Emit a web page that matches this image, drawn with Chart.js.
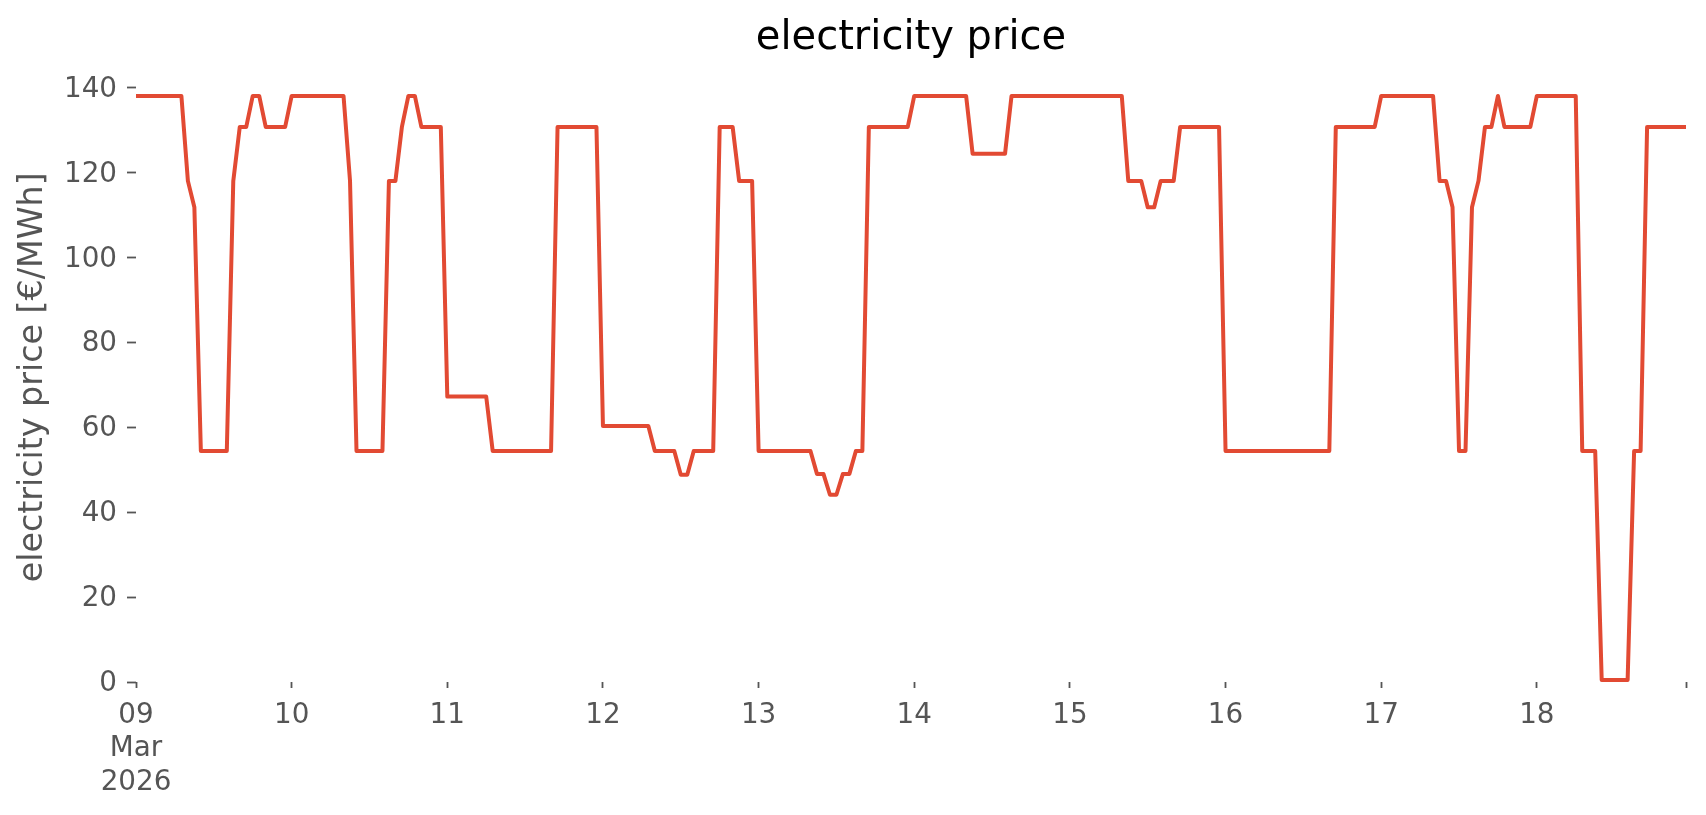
<!DOCTYPE html>
<html><head><meta charset="utf-8">
<script src="https://cdn.jsdelivr.net/npm/chart.js@4.4.1/dist/chart.umd.min.js"></script>
<style>html,body{margin:0;padding:0;background:#fff}canvas{display:block}</style>
</head><body>
<canvas id="c" width="1706" height="815"></canvas>
<script>
// hourly electricity price [€/MWh], 09 Mar 2026 00:00 ... 18 Mar 2026 23:00
const mar09 = [138,138,138,138,138,138,138,138,118,111.8,54.4,54.4,54.4,54.4,54.4,118,130.7,130.7,138,138,130.7,130.7,130.7,130.7];
const mar10 = [138,138,138,138,138,138,138,138,138,118,54.4,54.4,54.4,54.4,54.4,118,118,130.7,138,138,130.7,130.7,130.7,130.7];
const mar11 = [67.2,67.2,67.2,67.2,67.2,67.2,67.2,54.4,54.4,54.4,54.4,54.4,54.4,54.4,54.4,54.4,54.4,130.7,130.7,130.7,130.7,130.7,130.7,130.7];
const mar12 = [60.3,60.3,60.3,60.3,60.3,60.3,60.3,60.3,54.4,54.4,54.4,54.4,48.8,48.8,54.4,54.4,54.4,54.4,130.7,130.7,130.7,118,118,118];
const mar13 = [54.4,54.4,54.4,54.4,54.4,54.4,54.4,54.4,54.4,49,49,44.1,44.1,49,49,54.4,54.4,130.7,130.7,130.7,130.7,130.7,130.7,130.7];
const mar14 = [138,138,138,138,138,138,138,138,138,124.4,124.4,124.4,124.4,124.4,124.4,138,138,138,138,138,138,138,138,138];
const mar15 = [138,138,138,138,138,138,138,138,138,118,118,118,111.8,111.8,118,118,118,130.7,130.7,130.7,130.7,130.7,130.7,130.7];
const mar16 = [54.4,54.4,54.4,54.4,54.4,54.4,54.4,54.4,54.4,54.4,54.4,54.4,54.4,54.4,54.4,54.4,54.4,130.7,130.7,130.7,130.7,130.7,130.7,130.7];
const mar17 = [138,138,138,138,138,138,138,138,138,118,118,111.8,54.4,54.4,111.8,118,130.7,130.7,138,130.7,130.7,130.7,130.7,130.7];
const mar18 = [138,138,138,138,138,138,138,54.4,54.4,54.4,0.5,0.5,0.5,0.5,0.5,54.4,54.4,130.7,130.7,130.7,130.7,130.7,130.7,130.7];

const xTickHours = [0,24,48,72,96,120,144,168,192,216,239];
const xTickLabels = [['09','Mar','2026'],'10','11','12','13','14','15','16','17','18',''];
const yTickValues = [0,20,40,60,80,100,120,140];

const prices = [].concat(mar09,mar10,mar11,mar12,mar13,mar14,mar15,mar16,mar17,mar18);
const points = prices.map((v,i)=>({x:i,y:v}));

const FONT = 'DejaVu Sans';
new Chart(document.getElementById('c').getContext('2d'), {
  type:'line',
  data:{datasets:[{data:points, borderColor:'#E24A33', borderWidth:4, pointRadius:0, tension:0,
    borderJoinStyle:'round', borderCapStyle:'square', fill:false}]},
  options:{
    responsive:false, animation:false, devicePixelRatio:1,
    layout:{padding:{left:0,right:20,top:0,bottom:0}},
    plugins:{
      legend:{display:false}, tooltip:{enabled:false},
      title:{display:true, text:'electricity price', color:'#000', fullSize:false,
        font:{family:FONT, size:40, weight:'normal'}, padding:{top:14.5,bottom:10.1}}
    },
    scales:{
      x:{type:'linear', min:0, max:239, border:{display:false},
        grid:{drawOnChartArea:false, drawTicks:true, tickLength:6, tickColor:'#555', tickWidth:1.8},
        ticks:{autoSkip:false, maxRotation:0, minRotation:0, color:'#555', padding:11,
          font:{family:FONT, size:27.8, lineHeight:1.2}, callback:(v,i)=>xTickLabels[i]},
        afterBuildTicks:s=>{s.ticks = xTickHours.map(v=>({value:v}));},
        afterFit:s=>{s.height = 815-682;}
      },
      y:{min:0, max:143.5, border:{display:false},
        grid:{drawOnChartArea:false, drawTicks:true, tickLength:9, tickColor:'#555', tickWidth:1.8},
        ticks:{color:'#555', padding:10, labelOffset:2, font:{family:FONT, size:27.8}},
        afterBuildTicks:s=>{s.ticks = yTickValues.map(v=>({value:v}));},
        afterFit:s=>{s.width = 136;},
        title:{display:true, text:'electricity price [€/MWh]', color:'#555',
          font:{family:FONT, size:33.3, weight:'normal'}, padding:{top:13,bottom:0}}
      }
    }
  }
});
</script>
</body></html>
